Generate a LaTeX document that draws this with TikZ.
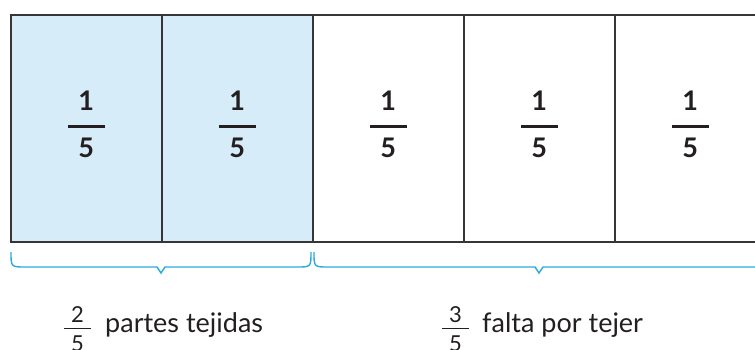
\documentclass[tikz,border=0pt]{standalone}
\usepackage{fontspec}
\setmainfont{Lato}

\definecolor{tejido}{RGB}{214,236,249}
\definecolor{azulllave}{RGB}{41,171,226}
\definecolor{tinta}{RGB}{35,31,32}

% llave bajo las celdas, de x=#1 a x=#2
\newcommand{\llave}[2]{%
  \draw[llavetrazo] (#1,252) .. controls (#1,267) .. (#1+14,267)
    -- ({(#1+#2)/2-4},267) -- ({(#1+#2)/2},273) -- ({(#1+#2)/2+4},267)
    -- (#2-14,267) .. controls (#2,267) .. (#2,252);}

\begin{document}
\begin{tikzpicture}[x=1pt,y=-1pt,
  celda/.style={draw=tinta!90,line width=1.5pt,minimum width=151pt,minimum height=227pt,inner sep=0pt,anchor=north west},
  cifra/.style={text=tinta,font=\fontsize{27}{27}\selectfont\bfseries,inner sep=0pt,anchor=base},
  cifrachica/.style={text=tinta,font=\fontsize{22}{22}\selectfont,inner sep=0pt,anchor=base},
  raya/.style={tinta,line width=2.6pt},
  rayachica/.style={tinta,line width=1.8pt},
  llavetrazo/.style={azulllave,line width=1.4pt},
  leyenda/.style={text=tinta,font=\fontsize{27}{27}\selectfont,inner sep=0pt,anchor=base west}]

\useasboundingbox (0,0) rectangle (755,349);

\foreach \i/\relleno in {1/tejido,2/tejido,3/white,4/white,5/white} {
  \node[celda,fill=\relleno] (c\i) at ({10+151*(\i-1)},14) {};
}
\foreach \i in {1,...,5} {
  \node[cifra] (n\i) at ([yshift=17.5pt]c\i.center) {1};
  \draw[raya] ([xshift=-18.5pt,yshift=2pt]c\i.center) -- ([xshift=18.5pt,yshift=2pt]c\i.center);
  \node[cifra] (d\i) at ([yshift=-29.5pt]c\i.center) {5};
}

\llave{11}{311}
\llave{314}{764}

\node[cifrachica] (dosn) at (77.5,322) {2};
\draw[rayachica] (64,328.5) -- (91,328.5);
\node[cifrachica] (dosd) at (77.5,351) {5};
\node[leyenda] (tejidas) at (105,332) {partes tejidas};

\node[cifrachica] (tresn) at (455.5,322) {3};
\draw[rayachica] (442,328.5) -- (469,328.5);
\node[cifrachica] (tresd) at (455.5,351) {5};
\node[leyenda] (falta) at (482,332) {falta por tejer};

\end{tikzpicture}
\end{document}
